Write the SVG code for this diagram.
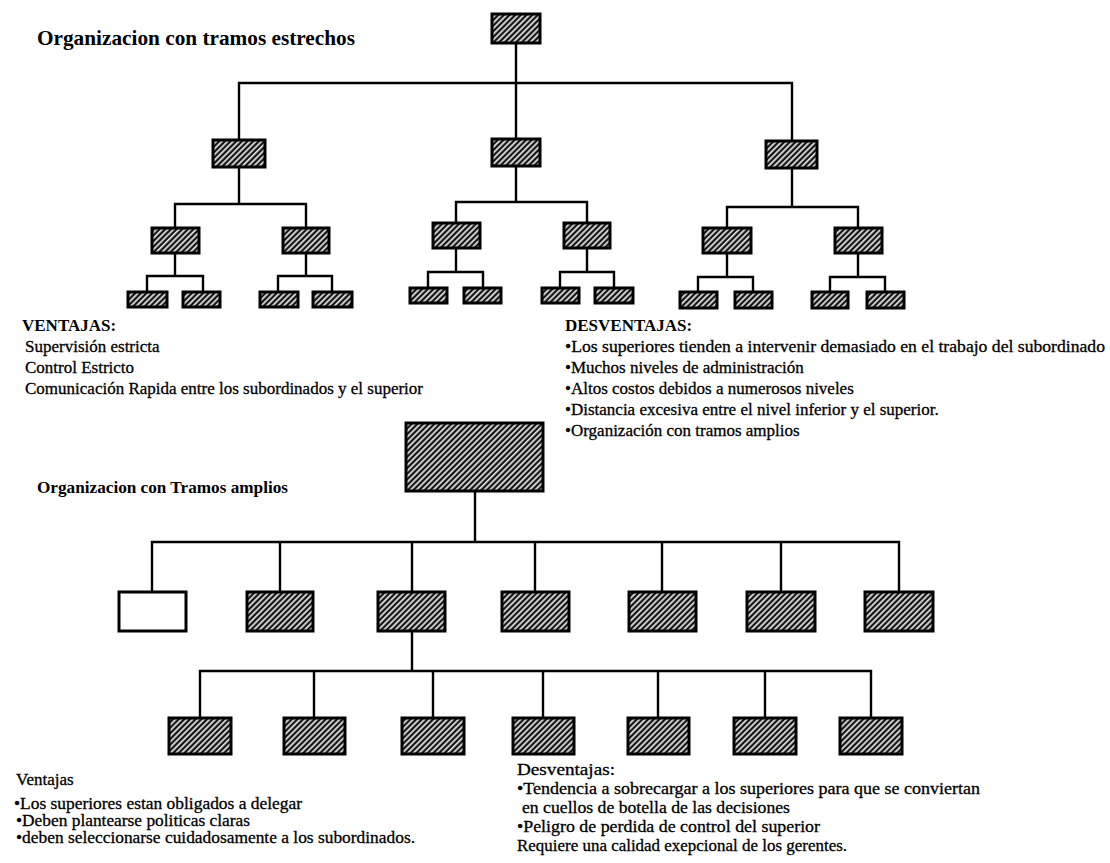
<svg xmlns="http://www.w3.org/2000/svg" width="1110" height="863" viewBox="0 0 1110 863">
<defs>
<pattern id="hatch" width="4" height="4" patternUnits="userSpaceOnUse" patternTransform="rotate(45)">
<rect width="4" height="4" fill="#151515"/>
<rect width="1.7" height="4" fill="#e6e6e6"/>
</pattern>
</defs>
<style>
.n{fill:url(#hatch);stroke:#000;stroke-width:3}
.w{fill:#fff;stroke:#000;stroke-width:3}
.c{fill:none;stroke:#000;stroke-width:2.4;stroke-linecap:square}
text{font-family:"Liberation Serif","Times New Roman",serif;fill:#000}
.t{font-size:17px;stroke:#000;stroke-width:0.3}
.b{font-size:17px;font-weight:bold}
.h1{font-size:21px;font-weight:bold}
.h2{font-size:16px;font-weight:bold}
</style>
<rect width="1110" height="863" fill="#fff"/>

<g id="connectors">
<path class="c" d="M516,43V83M239,83H792M239,83V140M516,83V139M792,83V141"/>
<path class="c" d="M239,167V204M175,204H306M175,204V228M306,204V228M175,253V276M147,276H203M147,276V292M203,276V292M306,253V276M278,276H332M278,276V292M332,276V292"/>
<path class="c" d="M516,166V202M456,202H587M456,202V223M587,202V223M456,248V272M428,272H483M428,272V288M483,272V288M587,248V272M560,272H614M560,272V288M614,272V288"/>
<path class="c" d="M792,168V207M727,207H858M727,207V228M858,207V228M727,253V277M698,277H753M698,277V292M753,277V292M858,253V277M830,277H885M830,277V292M885,277V292"/>
<path class="c" d="M475,491V542M152,542H899M152,542V592M280,542V592M412,542V592M535,542V592M662,542V592M781,542V592M899,542V592"/>
<path class="c" d="M412,631V671M200,671H871M200,671V718M314,671V718M433,671V718M543,671V718M658,671V718M765,671V718M871,671V718"/>
</g>

<g id="t-root"><rect class="n" x="492" y="14" width="48" height="29"/></g>
<g id="t-a"><rect class="n" x="213" y="140" width="52" height="27"/></g>
<g id="t-b"><rect class="n" x="492" y="139" width="48" height="27"/></g>
<g id="t-c"><rect class="n" x="766" y="141" width="51" height="27"/></g>
<g id="t-a1"><rect class="n" x="152" y="228" width="47" height="25"/></g>
<g id="t-a2"><rect class="n" x="283" y="228" width="46" height="25"/></g>
<g id="t-b1"><rect class="n" x="433" y="223" width="47" height="25"/></g>
<g id="t-b2"><rect class="n" x="564" y="223" width="46" height="25"/></g>
<g id="t-c1"><rect class="n" x="703" y="228" width="48" height="25"/></g>
<g id="t-c2"><rect class="n" x="835" y="228" width="47" height="25"/></g>
<g id="t-a11"><rect class="n" x="128" y="292" width="39" height="15"/></g>
<g id="t-a12"><rect class="n" x="183" y="292" width="37" height="15"/></g>
<g id="t-a21"><rect class="n" x="260" y="292" width="38" height="15"/></g>
<g id="t-a22"><rect class="n" x="313" y="292" width="39" height="15"/></g>
<g id="t-b11"><rect class="n" x="410" y="288" width="37" height="15"/></g>
<g id="t-b12"><rect class="n" x="464" y="288" width="37" height="15"/></g>
<g id="t-b21"><rect class="n" x="542" y="288" width="37" height="15"/></g>
<g id="t-b22"><rect class="n" x="595" y="288" width="38" height="15"/></g>
<g id="t-c11"><rect class="n" x="680" y="292" width="37" height="16"/></g>
<g id="t-c12"><rect class="n" x="735" y="292" width="37" height="16"/></g>
<g id="t-c21"><rect class="n" x="812" y="292" width="36" height="16"/></g>
<g id="t-c22"><rect class="n" x="867" y="292" width="37" height="16"/></g>

<g id="w-root"><rect class="n" x="406" y="423" width="137" height="68"/></g>
<g id="w-r1-1"><rect class="w" x="119" y="592" width="67" height="39"/></g>
<g id="w-r1-2"><rect class="n" x="247" y="592" width="66" height="39"/></g>
<g id="w-r1-3"><rect class="n" x="378" y="592" width="67" height="39"/></g>
<g id="w-r1-4"><rect class="n" x="502" y="592" width="67" height="39"/></g>
<g id="w-r1-5"><rect class="n" x="629" y="592" width="67" height="39"/></g>
<g id="w-r1-6"><rect class="n" x="747" y="592" width="68" height="39"/></g>
<g id="w-r1-7"><rect class="n" x="865" y="592" width="68" height="39"/></g>
<g id="w-r2-1"><rect class="n" x="169" y="718" width="62" height="36"/></g>
<g id="w-r2-2"><rect class="n" x="284" y="718" width="61" height="36"/></g>
<g id="w-r2-3"><rect class="n" x="402" y="718" width="62" height="36"/></g>
<g id="w-r2-4"><rect class="n" x="513" y="718" width="61" height="36"/></g>
<g id="w-r2-5"><rect class="n" x="628" y="718" width="61" height="36"/></g>
<g id="w-r2-6"><rect class="n" x="734" y="718" width="62" height="36"/></g>
<g id="w-r2-7"><rect class="n" x="840" y="718" width="62" height="36"/></g>

<g id="texts">
<text class="h1" x="37" y="45" textLength="318" lengthAdjust="spacingAndGlyphs">Organizacion con tramos estrechos</text>
<text class="b" x="22" y="331">VENTAJAS:</text>
<text class="t" x="25" y="352">Supervisión estricta</text>
<text class="t" x="25" y="373">Control Estricto</text>
<text class="t" x="25" y="394">Comunicación Rapida entre los subordinados y el superior</text>
<text class="b" x="565" y="331">DESVENTAJAS:</text>
<text class="t" x="565" y="352" textLength="540" lengthAdjust="spacingAndGlyphs">•Los superiores tienden a intervenir demasiado en el trabajo del subordinado</text>
<text class="t" x="565" y="373">•Muchos niveles de administración</text>
<text class="t" x="565" y="394">•Altos costos debidos a numerosos niveles</text>
<text class="t" x="565" y="415">•Distancia excesiva entre el nivel inferior y el superior.</text>
<text class="t" x="565" y="436">•Organización con tramos amplios</text>
<text class="h2" x="37" y="493" textLength="251" lengthAdjust="spacingAndGlyphs">Organizacion con Tramos amplios</text>
<text class="t" x="16" y="785">Ventajas</text>
<text class="t" x="14" y="809" textLength="288" lengthAdjust="spacingAndGlyphs">•Los superiores estan obligados a delegar</text>
<text class="t" x="16" y="826" textLength="234" lengthAdjust="spacingAndGlyphs">•Deben plantearse politicas claras</text>
<text class="t" x="16" y="843" textLength="399" lengthAdjust="spacingAndGlyphs">•deben seleccionarse cuidadosamente a los subordinados.</text>
<text class="t" x="517" y="775" textLength="98" lengthAdjust="spacingAndGlyphs">Desventajas:</text>
<text class="t" x="517" y="794" textLength="463" lengthAdjust="spacingAndGlyphs">•Tendencia a sobrecargar a los superiores para que se conviertan</text>
<text class="t" x="522" y="813" textLength="268" lengthAdjust="spacingAndGlyphs">en cuellos de botella de las decisiones</text>
<text class="t" x="517" y="832" textLength="303" lengthAdjust="spacingAndGlyphs">•Peligro de perdida de control del superior</text>
<text class="t" x="517" y="851" textLength="330" lengthAdjust="spacingAndGlyphs">Requiere una calidad exepcional de los gerentes.</text>
</g>
</svg>
